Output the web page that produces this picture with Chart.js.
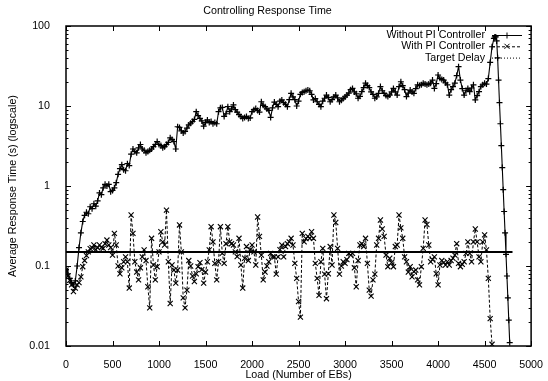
<!DOCTYPE html>
<html>
<head>
<meta charset="utf-8">
<script src="https://cdn.jsdelivr.net/npm/chart.js@4/dist/chart.umd.min.js"></script>
<style>
  html, body { margin: 0; padding: 0; background: #fff; }
  #wrap { width: 548px; height: 381px; position: relative; }
</style>
</head>
<body>
<div id="wrap"><canvas id="c" width="548" height="381"></canvas></div>
<script>
// ---- data ----
const chartTitle = 'Controlling Response Time';
const xTitle = 'Load (Number of EBs)';
const yTitle = 'Average Response Time (s) (logscale)';
const seriesNames = ['Without PI Controller', 'With PI Controller', 'Target Delay'];

const loadStep = 20; // loads 0, 20, 40, ... 4580
const loads = Array.from({ length: 230 }, (_, i) => i * loadStep);

const withoutPI = [
  0.09, 0.08, 0.07, 0.062, 0.058, 0.065, 0.1, 0.17, 0.26, 0.36,
  0.43, 0.47, 0.45, 0.55, 0.52, 0.6, 0.56, 0.65, 0.82, 0.78,
  0.95, 1.05, 1.0, 1.05, 0.85, 0.88, 0.95, 1.1, 1.4, 1.65,
  1.85, 1.6, 1.55, 1.9, 1.8, 2.5, 2.9, 2.7, 2.6, 3.0,
  3.3, 2.9, 2.8, 2.6, 2.7, 2.8, 2.9, 3.1, 3.3, 3.6,
  3.3, 3.2, 3.0, 3.1, 3.3, 3.5, 4.0, 3.8, 3.6, 2.9,
  5.5, 5.4, 4.9, 4.6, 4.8, 5.3, 5.8, 6.1, 6.4, 6.8,
  8.5, 7.6, 7.0, 6.5, 5.6, 6.2, 6.7, 6.2, 6.4, 6.0,
  6.2, 6.0, 8.5, 9.5, 9.6, 7.4, 8.0, 9.8, 8.5, 9.2,
  10.3, 9.0, 8.4, 7.8, 7.4, 7.0, 7.2, 7.4, 7.0, 7.1,
  8.5, 9.0, 9.3, 8.8, 8.4, 11.3, 10.2, 9.8, 9.2, 8.8,
  7.2, 9.5, 11.2, 10.5, 9.8, 11.5, 11.9, 11.0, 10.5, 9.8,
  12.0, 14.4, 13.0, 12.0, 10.0, 11.5, 14.0, 14.8, 15.1, 15.5,
  15.8, 15.5, 14.0, 11.9, 12.4, 11.3, 10.5, 9.8, 11.5, 12.5,
  13.7, 12.8, 11.3, 12.0, 13.0, 13.7, 12.6, 11.3, 11.8, 12.4,
  13.0, 13.7, 14.5, 16.0, 16.6, 15.0, 14.2, 12.5, 13.2, 15.1,
  17.0, 19.3, 18.0, 17.0, 15.0, 14.0, 12.5, 13.0, 14.4, 17.5,
  15.5, 14.4, 13.5, 13.1, 13.7, 15.0, 16.6, 15.0, 13.7, 17.5,
  20.1, 18.0, 16.0, 13.1, 14.5, 15.8, 15.0, 14.4, 16.5, 18.4,
  18.0, 18.4, 19.3, 18.8, 18.4, 18.8, 19.3, 21.1, 16.6, 19.0,
  24.4, 22.2, 21.5, 21.1, 19.5, 18.4, 13.7, 16.0, 17.5, 19.3,
  24.0, 31.0, 21.1, 16.5, 13.7, 15.5, 16.6, 15.1, 16.8, 18.4,
  11.9, 13.5, 15.1, 17.5, 18.4, 19.3, 18.8, 22.0, 35.0, 55.0
];
// overload tail of the uncontrolled run (finer load steps)
const withoutTailLoads = [4600, 4610, 4620, 4630, 4640, 4650, 4660, 4670, 4680, 4690, 4700, 4710, 4720, 4730, 4740, 4750, 4760, 4770];
const withoutTail = [70, 73, 73, 65, 40, 21, 11, 6, 3.2, 1.7, 0.9, 0.48, 0.26, 0.14, 0.075, 0.04, 0.021, 0.011];

const withPI = [
  0.089, 0.075, 0.066, 0.058, 0.048, 0.053, 0.058, 0.062, 0.073, 0.098,
  0.117, 0.135, 0.15, 0.165, 0.17, 0.183, 0.16, 0.17, 0.183, 0.17,
  0.166, 0.19, 0.211, 0.183, 0.17, 0.137, 0.256, 0.183, 0.1, 0.08,
  0.095, 0.113, 0.13, 0.113, 0.053, 0.434, 0.256, 0.113, 0.084, 0.067,
  0.095, 0.13, 0.159, 0.117, 0.055, 0.03, 0.222, 0.103, 0.067, 0.098,
  0.15, 0.268, 0.2, 0.183, 0.5, 0.113, 0.034, 0.103, 0.089, 0.061,
  0.089, 0.326, 0.15, 0.04, 0.03, 0.05, 0.117, 0.1, 0.075, 0.064,
  0.08, 0.098, 0.11, 0.09, 0.061, 0.084, 0.113, 0.159, 0.31, 0.2,
  0.108, 0.067, 0.113, 0.31, 0.144, 0.108, 0.19, 0.31, 0.2, 0.19,
  0.183, 0.15, 0.131, 0.222, 0.103, 0.053, 0.125, 0.175, 0.117, 0.16,
  0.183, 0.15, 0.103, 0.41, 0.235, 0.137, 0.067, 0.084, 0.1, 0.113,
  0.144, 0.13, 0.13, 0.079, 0.13, 0.16, 0.183, 0.13, 0.175, 0.19,
  0.2, 0.222, 0.183, 0.108, 0.07, 0.036, 0.023, 0.256, 0.2, 0.22,
  0.235, 0.222, 0.268, 0.222, 0.108, 0.07, 0.043, 0.113, 0.166, 0.079,
  0.039, 0.08, 0.175, 0.103, 0.434, 0.35, 0.166, 0.079, 0.1, 0.113,
  0.108, 0.12, 0.144, 0.137, 0.144, 0.095, 0.055, 0.117, 0.183, 0.19,
  0.175, 0.222, 0.108, 0.05, 0.042, 0.067, 0.079, 0.183, 0.222, 0.376,
  0.29, 0.235, 0.137, 0.098, 0.125, 0.11, 0.098, 0.175, 0.183, 0.434,
  0.3, 0.222, 0.13, 0.113, 0.084, 0.098, 0.073, 0.085, 0.089, 0.067,
  0.058, 0.098, 0.166, 0.376, 0.33, 0.183, 0.113, 0.12, 0.13, 0.08,
  0.058, 0.103, 0.117, 0.11, 0.103, 0.113, 0.103, 0.117, 0.125, 0.137,
  0.19, 0.108, 0.098, 0.105, 0.113, 0.144, 0.2, 0.144, 0.113, 0.2,
  0.29, 0.2, 0.13, 0.113, 0.2, 0.245, 0.159, 0.07, 0.022, 0.0105
];

const targetLoads = [0, 4800];
const targetDelay = [0.15, 0.15];

const xTickValues = [0, 500, 1000, 1500, 2000, 2500, 3000, 3500, 4000, 4500, 5000];
const yTickValues = [0.01, 0.1, 1, 10, 100];
const yTickLabels = ['0.01', '0.1', '1', '10', '100'];

// ---- build ----
const FONT = 'Helvetica, "Liberation Sans", Arial, sans-serif';
const FS = 10.7;

function pts(xs, ys) { return ys.map((v, i) => ({ x: xs[i], y: v })); }

const dsWithout = {
  label: seriesNames[0],
  data: pts(loads, withoutPI).concat(pts(withoutTailLoads, withoutTail)),
  borderColor: '#000', backgroundColor: '#000', borderWidth: 1.1,
  pointStyle: 'cross', pointRadius: 3, pointBorderWidth: 1.2,
  pointBorderColor: '#000', tension: 0
};
const dsWith = {
  label: seriesNames[1],
  data: pts(loads, withPI),
  borderColor: '#000', backgroundColor: '#000', borderWidth: 1, borderDash: [3, 2],
  pointStyle: 'crossRot', pointRadius: 3.6, pointBorderWidth: 1.1,
  pointBorderColor: '#000', tension: 0
};
const dsTarget = {
  label: seriesNames[2],
  data: pts(targetLoads, targetDelay),
  borderColor: '#000', borderWidth: 2, pointRadius: 0, tension: 0,
  legendDash: [1, 2]
};

const PLOT = { left: 66, right: 535, top: 26, bottom: 346 };

const frame = {
  id: 'frame',
  afterDatasetsDraw(chart) {
    const { ctx, chartArea: a, scales: { x, y } } = chart;
    ctx.save();
    ctx.strokeStyle = '#000';
    ctx.lineWidth = 1;
    const seg = (x1, y1, x2, y2) => { ctx.beginPath(); ctx.moveTo(x1, y1); ctx.lineTo(x2, y2); ctx.stroke(); };
    xTickValues.forEach(v => {
      const px = Math.round(x.getPixelForValue(v)) + 0.5;
      seg(px, a.bottom, px, a.bottom - 5);
      seg(px, a.top, px, a.top + 5);
    });
    yTickValues.forEach((v, i) => {
      const py = Math.round(y.getPixelForValue(v)) + 0.5;
      seg(a.left, py, a.left + 5, py);
      seg(a.right, py, a.right - 5, py);
      if (i < yTickValues.length - 1) {
        for (let m = 2; m <= 9; m++) {
          const pm = Math.round(y.getPixelForValue(v * m)) + 0.5;
          seg(a.left, pm, a.left + 2.5, pm);
          seg(a.right, pm, a.right - 2.5, pm);
        }
      }
    });
    ctx.lineWidth = 1.5;
    ctx.strokeRect(a.left, a.top, a.right - a.left, a.bottom - a.top);

    // gnuplot-style key (text right aligned, sample on the right)
    ctx.font = FS + 'px ' + FONT;
    ctx.fillStyle = '#000';
    ctx.textAlign = 'right';
    ctx.textBaseline = 'middle';
    const textRight = 485, s0 = 492, s1 = 522, rowY = [35, 46.3, 57.6];
    chart.data.datasets.forEach((ds, i) => {
      const ry = rowY[i];
      ctx.fillText(ds.label, textRight, ry);
      ctx.lineWidth = 1;
      ctx.setLineDash(ds.legendDash || ds.borderDash || []);
      seg(s0, ry + 0.5, s1, ry + 0.5);
      ctx.setLineDash([]);
      const cx = (s0 + s1) / 2;
      if (ds.pointStyle === 'cross') {
        const r = ds.pointRadius;
        seg(cx - r, ry + 0.5, cx + r, ry + 0.5);
        seg(cx, ry - r + 0.5, cx, ry + r + 0.5);
      } else if (ds.pointStyle === 'crossRot') {
        const r = ds.pointRadius * 0.707;
        seg(cx - r, ry - r, cx + r, ry + r);
        seg(cx - r, ry + r, cx + r, ry - r);
      }
    });
    ctx.restore();
  }
};

new Chart(document.getElementById('c'), {
  type: 'line',
  data: { datasets: [dsWithout, dsWith, dsTarget] },
  options: {
    responsive: false,
    animation: false,
    devicePixelRatio: 1,
    layout: { padding: { left: 0, right: 548 - PLOT.right, top: 0, bottom: 0 } },
    plugins: {
      legend: { display: false },
      tooltip: { enabled: false },
      title: {
        display: true, text: chartTitle, color: '#000',
        font: { family: FONT, size: FS, weight: 'normal' },
        padding: { top: 5, bottom: 26 - 5 - FS * 1.2 }
      }
    },
    scales: {
      x: {
        type: 'linear', min: 0, max: 5000,
        afterBuildTicks: s => { s.ticks = xTickValues.map(v => ({ value: v })); },
        afterFit: s => { s.height = 381 - PLOT.bottom; },
        grid: { display: false }, border: { display: false },
        ticks: { color: '#000', padding: 5, maxRotation: 0, autoSkip: false,
          font: { family: FONT, size: FS }, callback: v => String(v) },
        title: { display: true, text: xTitle, color: '#000', padding: { top: 2, bottom: 0 },
          font: { family: FONT, size: FS } }
      },
      y: {
        type: 'logarithmic', min: 0.01, max: 100,
        afterBuildTicks: s => { s.ticks = yTickValues.map(v => ({ value: v })); },
        afterFit: s => { s.width = PLOT.left; },
        grid: { display: false }, border: { display: false },
        ticks: { color: '#000', padding: 8, autoSkip: false,
          font: { family: FONT, size: FS },
          callback: (v) => yTickLabels[yTickValues.indexOf(v)] ?? '' },
        title: { display: true, text: yTitle, color: '#000', padding: { top: 7, bottom: 0 },
          font: { family: FONT, size: FS } }
      }
    }
  },
  plugins: [frame]
});
</script>
</body>
</html>
